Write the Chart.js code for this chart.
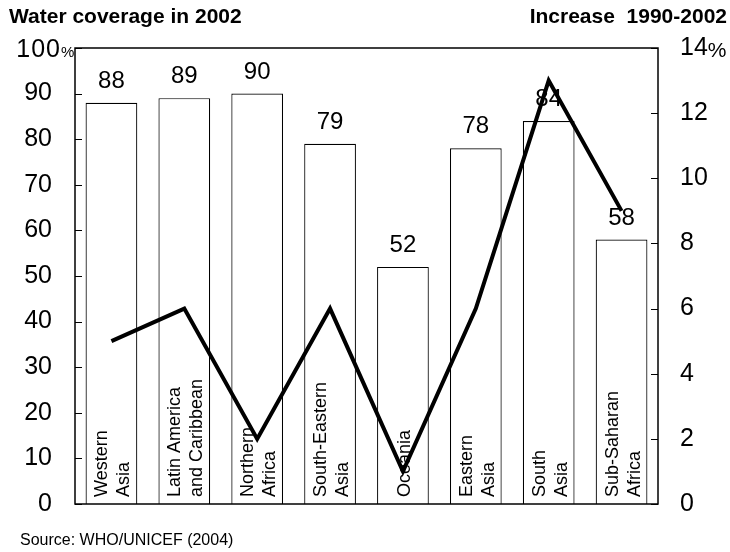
<!DOCTYPE html>
<html lang="en">
<head>
<meta charset="UTF-8">
<title>Water coverage in 2002</title>
<script src="https://cdn.jsdelivr.net/npm/chart.js@4"></script>
<style>
  html, body { margin: 0; padding: 0; background: #fff; }
  .wrap { position: relative; width: 730px; height: 552px; font-family: "Liberation Sans", Arial, sans-serif; color: #000; }
  .head { position: absolute; top: 4px; font-weight: bold; font-size: 21px; line-height: 24px; }
  .head.left { left: 9px; }
  .head.right { right: 3px; }
  .source { position: absolute; left: 20px; top: 530px; font-size: 16px; line-height: 20px; }
  canvas { position: absolute; left: 0; top: 0; }
</style>
</head>
<body>
<div class="wrap">
  <canvas id="chart" width="730" height="552"></canvas>
  <div class="head left">Water coverage in 2002</div>
  <div class="head right">Increase&nbsp; 1990-2002</div>
  <div class="source">Source: WHO/UNICEF (2004)</div>
</div>
<script>
// regions, two text lines each where the name is split
const regions = [
  ['Western', 'Asia'],
  ['Latin America', 'and Caribbean'],
  ['Northern', 'Africa'],
  ['South-Eastern', 'Asia'],
  ['Oceania'],
  ['Eastern', 'Asia'],
  ['South', 'Asia'],
  ['Sub-Saharan', 'Africa']
];
// % of population with improved water, 2002
const coverage2002 = [88, 89, 90, 79, 52, 78, 84, 58];
// percentage point increase 1990-2002
const increase = [5, 6, 2, 6, 1, 6, 13, 9];

const leftTicks = { min: 0, max: 100, step: 10 };
const rightTicks = { min: 0, max: 14, step: 2 };

const FONT = '"Liberation Sans", Arial, sans-serif';

const decor = {
  id: 'decor',
  // value labels and region names go over the bars but under the line
  afterDatasetDraw(chart, args) {
    if (args.index !== 0) return;
    const ctx = chart.ctx;
    const x = chart.scales.x;
    const y = chart.scales.y;
    const bottom = chart.chartArea.bottom;
    ctx.save();
    ctx.fillStyle = '#000';
    ctx.textAlign = 'center';
    ctx.textBaseline = 'alphabetic';
    ctx.font = '24px ' + FONT;
    coverage2002.forEach((v, i) => {
      ctx.fillText(String(v), x.getPixelForValue(i), y.getPixelForValue(v) - 15);
    });
    ctx.font = '18px ' + FONT;
    ctx.textAlign = 'left';
    regions.forEach((lines, i) => {
      const cx = x.getPixelForValue(i);
      ctx.save();
      ctx.translate(cx, bottom - 7);
      ctx.rotate(-Math.PI / 2);
      lines.forEach((txt, j) => {
        ctx.fillText(txt, 0, 7 + (j - (lines.length - 1) / 2) * 22);
      });
      ctx.restore();
    });
    ctx.restore();
  },
  afterDraw(chart) {
    const ctx = chart.ctx;
    const a = chart.chartArea;
    const y = chart.scales.y;
    const y1 = chart.scales.y1;
    ctx.save();
    ctx.strokeStyle = '#000';
    ctx.lineWidth = 1.5;
    ctx.strokeRect(a.left, a.top, a.right - a.left, a.bottom - a.top);
    ctx.lineWidth = 1;
    ctx.beginPath();
    y.ticks.forEach(t => {
      const py = Math.round(y.getPixelForValue(t.value)) + 0.5;
      ctx.moveTo(a.left, py); ctx.lineTo(a.left + 7, py);
    });
    y1.ticks.forEach(t => {
      const py = Math.round(y1.getPixelForValue(t.value)) + 0.5;
      ctx.moveTo(a.right - 7, py); ctx.lineTo(a.right, py);
    });
    ctx.stroke();

    // top labels carry the % unit
    ctx.fillStyle = '#000';
    ctx.textBaseline = 'alphabetic';
    const topY = y.getPixelForValue(leftTicks.max);
    ctx.font = '25px ' + FONT;
    ctx.letterSpacing = '1px';
    ctx.textAlign = 'right';
    ctx.fillText(String(leftTicks.max), 61, topY + 9);
    ctx.letterSpacing = '0px';
    ctx.font = '15px ' + FONT;
    ctx.textAlign = 'left';
    ctx.fillText('%', 61, topY + 9);

    ctx.font = '25px ' + FONT;
    const w = ctx.measureText(String(rightTicks.max)).width;
    ctx.font = '21px ' + FONT;
    ctx.fillText('%', a.right + 22 + w, y1.getPixelForValue(rightTicks.max) + 9);
    ctx.restore();
  }
};

new Chart(document.getElementById('chart'), {
  type: 'bar',
  data: {
    labels: regions,
    datasets: [{
      type: 'bar',
      data: coverage2002,
      yAxisID: 'y',
      backgroundColor: '#fff',
      borderColor: '#000',
      borderWidth: 1.2,
      barPercentage: 0.71,
      categoryPercentage: 1,
      order: 1
    }, {
      type: 'line',
      data: increase,
      yAxisID: 'y1',
      borderColor: '#000',
      borderWidth: 4,
      pointRadius: 0,
      tension: 0,
      fill: false,
      order: 0
    }]
  },
  options: {
    responsive: false,
    animation: false,
    events: [],
    layout: { padding: { top: 48, bottom: 48, left: 0, right: 0 } },
    plugins: { legend: { display: false }, tooltip: { enabled: false } },
    scales: {
      x: { display: false },
      y: {
        position: 'left',
        min: leftTicks.min, max: leftTicks.max,
        grid: { display: false, tickLength: 0 },
        border: { display: false },
        ticks: {
          stepSize: leftTicks.step,
          crossAlign: 'near',
          padding: 23,
          color: '#000',
          font: { family: FONT, size: 25 },
          callback: v => v === leftTicks.max ? '' : v
        },
        afterFit(s) { s.width = 75; }
      },
      y1: {
        position: 'right',
        min: rightTicks.min, max: rightTicks.max,
        grid: { display: false, tickLength: 0 },
        border: { display: false },
        ticks: {
          stepSize: rightTicks.step,
          padding: 22,
          color: '#000',
          font: { family: FONT, size: 25 }
        },
        afterFit(s) { s.width = 72; }
      }
    }
  },
  plugins: [decor]
});
</script>
</body>
</html>
